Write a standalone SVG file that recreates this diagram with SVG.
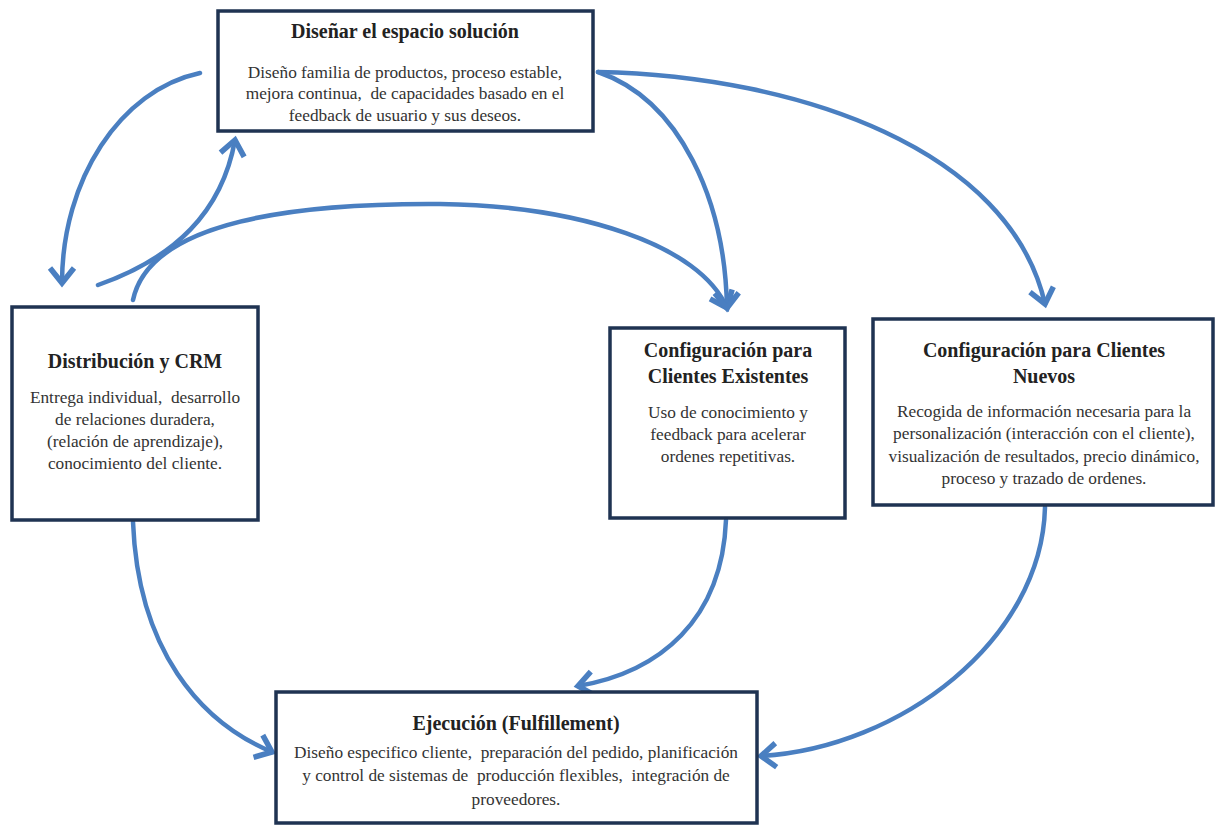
<svg xmlns="http://www.w3.org/2000/svg" width="1215" height="825" viewBox="0 0 1215 825">
<defs>
<style>
.box{fill:#fff;stroke:#1f3352;stroke-width:3.5}
.t{font-family:"Liberation Serif","Times New Roman",serif;font-size:20px;font-weight:bold;fill:#222;text-anchor:middle}
.b{font-family:"Liberation Serif","Times New Roman",serif;font-size:17.3px;fill:#333;text-anchor:middle;white-space:pre}
.c{fill:none;stroke:#4a7fc1;stroke-width:4.5;stroke-linecap:round}
</style>
<marker id="ah" markerUnits="userSpaceOnUse" markerWidth="32" markerHeight="32" viewBox="-20 -16 26 32" refX="0" refY="0" orient="auto">
<path d="M-15,-12 L0,0 L-15,12" fill="none" stroke="#4a7fc1" stroke-width="5.5" stroke-linejoin="miter"/>
</marker>
</defs>
<rect width="1215" height="825" fill="#fff"/>
<g id="connectors">
<path class="c" d="M200,73 C120,90 62,180 62,283" marker-end="url(#ah)"/>
<path class="c" d="M98,285 C175,258 222,212 235,140" marker-end="url(#ah)"/>
<path class="c" d="M133,300 C150,220 300,203 440,204 C580,206 700,245 727,308" marker-end="url(#ah)"/>
<path class="c" d="M598,72 C680,100 725,200 727,308" marker-end="url(#ah)"/>
<path class="c" d="M598,72 C800,76 1010,150 1045,304" marker-end="url(#ah)"/>
<path class="c" d="M133,522 C138,650 200,722 272,752" marker-end="url(#ah)"/>
<path class="c" d="M726,520 C722,620 660,672 578,686" marker-end="url(#ah)"/>
<path class="c" d="M1045,507 C1042,640 900,748 761,756" marker-end="url(#ah)"/>
</g>
<g id="n-disenar">
<rect class="box" x="218" y="11" width="375" height="120"/>
<text class="t" x="405" y="38">Diseñar el espacio solución</text>
<text class="b" x="405" y="78">Diseño familia de productos, proceso estable,</text>
<text class="b" x="405" y="99" xml:space="preserve">mejora continua,  de capacidades basado en el</text>
<text class="b" x="405" y="121">feedback de usuario y sus deseos.</text>
</g>
<g id="n-distribucion">
<rect class="box" x="12" y="307" width="246" height="213"/>
<text class="t" x="135" y="368">Distribución y CRM</text>
<text class="b" x="135" y="403" xml:space="preserve">Entrega individual,  desarrollo</text>
<text class="b" x="135" y="425">de relaciones duradera,</text>
<text class="b" x="135" y="447">(relación de aprendizaje),</text>
<text class="b" x="135" y="469">conocimiento del cliente.</text>
</g>
<g id="n-existentes">
<rect class="box" x="610" y="328" width="235" height="190"/>
<text class="t" x="728" y="357">Configuración para</text>
<text class="t" x="728" y="383">Clientes Existentes</text>
<text class="b" x="728" y="418">Uso de conocimiento y</text>
<text class="b" x="728" y="440">feedback para acelerar</text>
<text class="b" x="728" y="462">ordenes repetitivas.</text>
</g>
<g id="n-nuevos">
<rect class="box" x="873" y="319" width="340" height="186"/>
<text class="t" x="1044" y="357">Configuración para Clientes</text>
<text class="t" x="1044" y="383">Nuevos</text>
<text class="b" x="1044" y="417">Recogida de información necesaria para la</text>
<text class="b" x="1044" y="439">personalización (interacción con el cliente),</text>
<text class="b" x="1044" y="462">visualización de resultados, precio dinámico,</text>
<text class="b" x="1044" y="484">proceso y trazado de ordenes.</text>
</g>
<g id="n-ejecucion">
<rect class="box" x="276" y="692" width="481" height="131"/>
<text class="t" x="516" y="730">Ejecución (Fulfillement)</text>
<text class="b" x="516" y="758" xml:space="preserve">Diseño especifico cliente,  preparación del pedido, planificación</text>
<text class="b" x="516" y="781" xml:space="preserve">y control de sistemas de  producción flexibles,  integración de</text>
<text class="b" x="516" y="805">proveedores.</text>
</g>
</svg>
